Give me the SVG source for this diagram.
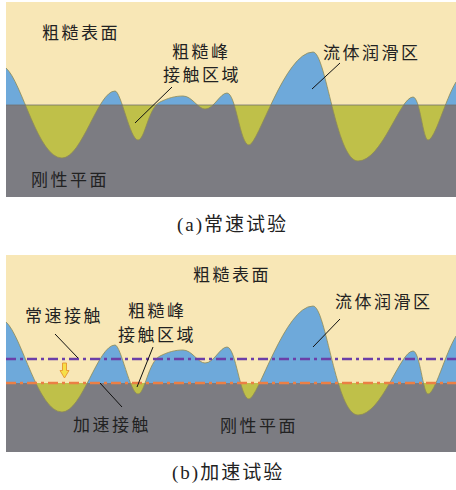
<svg xmlns="http://www.w3.org/2000/svg" width="456" height="490" viewBox="0 0 456 490">
<style>
.bg{fill:#f8e7b6}
.plane{fill:#7c7c82}
.fluid{fill:#6ea9da}
.contact{fill:#bfc049}
.curve{fill:none;stroke:#8e8a55;stroke-width:0.8}
.lbl{font-family:"Noto Sans CJK SC","Liberation Serif",sans-serif;font-size:17px;letter-spacing:2.5px;fill:#222}
.cap{font-family:"Liberation Serif","Noto Sans CJK SC",serif;font-size:19px;letter-spacing:2px;fill:#222}
.lead{stroke:#111;stroke-width:1;fill:none}
.purple{stroke:#6b3fa8;stroke-width:2.5;stroke-dasharray:10 4 3 4;fill:none}
.orange{stroke:#eb7f45;stroke-width:2.5;stroke-dasharray:10 4 3 4;fill:none}
</style>
<defs>
<path id="curve" d="M6,68 C22,82 38,158 62,158 C82,158 98,91 115,91 C121,91 130,140 138,140 C145,140 148,108 160,102 C168,98 175,96 183,96 C192,96 198,109 205,109 C214,109 220,93 227,93 C236,93 240,145 249,145 C258,145 285,52 313,52 C326,52 336,161 358,161 C382,161 400,97 413,97 C420,97 423,140 428,140 C435,140 445,100 456,82"/>
<clipPath id="clipA-up"><rect x="6" y="2" width="450" height="103"/></clipPath>
<clipPath id="clipA-down"><rect x="6" y="105" width="450" height="92"/></clipPath>
<clipPath id="clipB-up"><rect x="6" y="255" width="450" height="128"/></clipPath>
<clipPath id="clipB-down"><rect x="6" y="383" width="450" height="69"/></clipPath>
</defs>

<g id="panel-a">
<rect class="bg" x="6" y="2" width="450" height="195"/>
<rect class="plane" x="6" y="105" width="450" height="92"/>
<path class="fluid" clip-path="url(#clipA-up)" d="M6,68 C22,82 38,158 62,158 C82,158 98,91 115,91 C121,91 130,140 138,140 C145,140 148,108 160,102 C168,98 175,96 183,96 C192,96 198,109 205,109 C214,109 220,93 227,93 C236,93 240,145 249,145 C258,145 285,52 313,52 C326,52 336,161 358,161 C382,161 400,97 413,97 C420,97 423,140 428,140 C435,140 445,100 456,82 L456,197 L6,197 Z"/>
<path class="contact" clip-path="url(#clipA-down)" d="M6,68 C22,82 38,158 62,158 C82,158 98,91 115,91 C121,91 130,140 138,140 C145,140 148,108 160,102 C168,98 175,96 183,96 C192,96 198,109 205,109 C214,109 220,93 227,93 C236,93 240,145 249,145 C258,145 285,52 313,52 C326,52 336,161 358,161 C382,161 400,97 413,97 C420,97 423,140 428,140 C435,140 445,100 456,82 L456,2 L6,2 Z"/>
<use href="#curve" class="curve"/>
<line x1="6" y1="105" x2="456" y2="105" stroke="#6e6e70" stroke-width="0.8"/>
</g>

<g id="panel-b">
<rect class="bg" x="6" y="255" width="450" height="197"/>
<rect class="plane" x="6" y="383" width="450" height="69"/>
<path class="fluid" clip-path="url(#clipB-up)" d="M6,322 C22,336 38,412 62,412 C82,412 98,345 115,345 C121,345 130,394 138,394 C145,394 148,362 160,356 C168,352 175,350 183,350 C192,350 198,363 205,363 C214,363 220,347 227,347 C236,347 240,399 249,399 C258,399 285,306 313,306 C326,306 336,415 358,415 C382,415 400,351 413,351 C420,351 423,394 428,394 C435,394 445,354 456,336 L456,452 L6,452 Z"/>
<path class="contact" clip-path="url(#clipB-down)" d="M6,322 C22,336 38,412 62,412 C82,412 98,345 115,345 C121,345 130,394 138,394 C145,394 148,362 160,356 C168,352 175,350 183,350 C192,350 198,363 205,363 C214,363 220,347 227,347 C236,347 240,399 249,399 C258,399 285,306 313,306 C326,306 336,415 358,415 C382,415 400,351 413,351 C420,351 423,394 428,394 C435,394 445,354 456,336 L456,255 L6,255 Z"/>
<use href="#curve" class="curve" transform="translate(0,254)"/>
<line class="purple" x1="6" y1="359" x2="456" y2="359"/>
<line class="orange" x1="6" y1="383" x2="456" y2="383"/>
<polygon id="arrow-down" points="62.5,363 66.5,363 66.5,370.5 69,370.5 64.5,378 60,370.5 62.5,370.5" fill="#f6df47" stroke="#e8942e" stroke-width="0.9"/>
</g>

<g id="labels-a">
<text class="lbl" x="42" y="39">粗糙表面</text>
<text class="lbl" x="172" y="58">粗糙峰</text>
<text class="lbl" x="163" y="81">接触区域</text>
<text class="lbl" x="323" y="59">流体润滑区</text>
<text class="lbl" x="31" y="186">刚性平面</text>
<text class="cap" x="177" y="231">(a)常速试验</text>
</g>
<g id="labels-b">
<text class="lbl" x="193" y="281">粗糙表面</text>
<text class="lbl" x="25" y="322">常速接触</text>
<text class="lbl" x="128" y="317">粗糙峰</text>
<text class="lbl" x="118" y="341">接触区域</text>
<text class="lbl" x="335" y="308">流体润滑区</text>
<text class="lbl" x="73" y="431">加速接触</text>
<text class="lbl" x="220" y="432">刚性平面</text>
<text class="cap" x="172" y="479">(b)加速试验</text>
</g>
<g id="connectors">
<line class="lead" x1="172" y1="87" x2="135" y2="123"/>
<line class="lead" x1="340" y1="63" x2="312" y2="89"/>
<line class="lead" x1="55" y1="334" x2="78" y2="358"/>
<line class="lead" x1="153" y1="347" x2="137" y2="387"/>
<line class="lead" x1="340" y1="319" x2="313" y2="347"/>
<line class="lead" x1="100" y1="383" x2="122" y2="407"/>
</g>
</svg>
